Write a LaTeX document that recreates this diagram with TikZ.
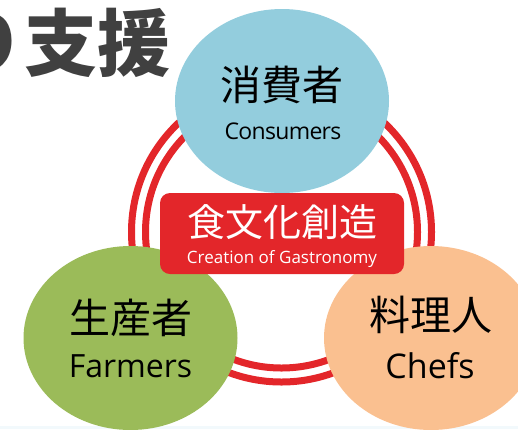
\documentclass[tikz,border=0pt]{standalone}
\usepackage{fontspec}
\setmainfont{Open Sans}
\newfontfamily\jpfont{Noto Sans CJK JP}
\usetikzlibrary{shapes.geometric}

\definecolor{consumerblue}{HTML}{93CDDD}
\definecolor{farmergreen}{HTML}{9BBB59}
\definecolor{cheforange}{HTML}{FAC090}
\definecolor{ringred}{HTML}{E3262A}
\definecolor{titlegray}{HTML}{404040}
\definecolor{edgestrip}{HTML}{F2F9FC}

\tikzset{
  party/.style={ellipse, draw=none, inner sep=0pt, minimum width=214pt, minimum height=184pt},
  jplabel/.style={inner sep=0pt, text=black, font=\jpfont\fontsize{41}{41}\selectfont},
  enlabel/.style={inner sep=0pt, text=black, anchor=base},
  ringline/.style={draw=ringred, line width=7pt},
}

\begin{document}
\begin{tikzpicture}[x=1pt, y=-1pt]
\useasboundingbox (0,0) rectangle (518,429);
\clip (0,0) rectangle (518,429);

% faint strip along the lower edge
\fill[edgestrip] (0,426) rectangle (518,429);

% heading, running in from the left edge
\node[anchor=east, inner sep=0pt, text=titlegray,
      font=\jpfont\bfseries\fontsize{73}{73}\selectfont] (heading) at (171,43) {り支援};

% double ring linking the three parties
\draw[ringline] (281.5,232) circle[radius=150];
\draw[ringline] (281.5,232) circle[radius=136];

% the three parties
\node[party, fill=consumerblue] (consumers) at (282,101) {};
\node[party, fill=farmergreen] (farmers) at (130.5,338) {};
\node[party, fill=cheforange] (chefs) at (431,338) {};

\node[jplabel] (consumersjp) at (282,85) {消費者};
\node[enlabel, font=\fontsize{23}{23}\selectfont] (consumersen) at (283,139) {\addfontfeatures{LetterSpace=-3}Consumers};

\node[jplabel] (farmersjp) at (131,317.5) {生産者};
\node[enlabel, font=\fontsize{32}{32}\selectfont] (farmersen) at (130.5,377) {Farmers};

\node[jplabel] (chefsjp) at (430.5,315) {料理人};
\node[enlabel, font=\fontsize{34}{34}\selectfont] (chefsen) at (430,378) {Chefs};

% central box
\node[draw=none, fill=ringred, rounded corners=10pt, minimum width=244pt,
      minimum height=81pt, inner sep=0pt] (creation) at (282,233.5) {};
\node[inner sep=0pt, text=white, font=\jpfont\fontsize{38}{38}\selectfont] (creationjp) at (282,222.5) {食文化創造};
\node[enlabel, text=white, font=\fontsize{17}{17}\selectfont] (creationen) at (282,263) {Creation of Gastronomy};
\end{tikzpicture}
\end{document}
